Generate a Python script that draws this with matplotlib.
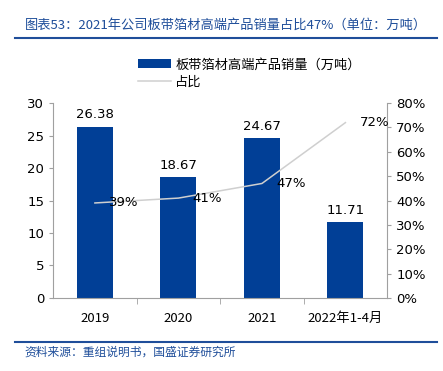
import matplotlib.pyplot as plt
from matplotlib.ticker import PercentFormatter

plt.rcParams['font.family'] = ['DejaVu Sans', 'Noto Sans CJK SC']

# datos
categorias = ['2019', '2020', '2021', '2022年1-4月']
ventas = [26.38, 18.67, 24.67, 11.71]
proporcion = [0.39, 0.41, 0.47, 0.72]
etiquetas_prop = ['39%', '41%', '47%', '72%']

azul = '#013F96'
gris = '#CFCFCF'
cjk = ['Noto Sans CJK SC', 'DejaVu Sans']

fig = plt.figure(figsize=(4.43, 3.71), dpi=100)
ax = fig.add_axes([0.12, 0.197, 0.754, 0.525])

x = range(len(categorias))
barras = ax.bar(x, ventas, width=0.43, color=azul, label='板带箔材高端产品销量（万吨）', zorder=2)
for xi, v in zip(x, ventas):
    ax.text(xi, v + 0.8, f'{v:.2f}', ha='center', va='bottom', fontsize=9.5)

ax.set_ylim(0, 30)
ax.set_yticks(range(0, 31, 5))
ax.set_xlim(-0.5, 3.5)
ax.set_xticks(list(x))
ax.set_xticklabels(categorias, family=cjk)
ax.set_xticks([0.5, 1.5, 2.5], minor=True)
ax.tick_params(axis='x', which='major', length=0, pad=10, labelsize=9.5)
ax.tick_params(axis='x', which='minor', length=4, color='#A0A0A0')
ax.tick_params(axis='y', length=3, color='#A0A0A0', labelsize=9.5)
for lado in ['top', 'right']:
    ax.spines[lado].set_visible(False)
ax.spines['left'].set_color('#A0A0A0')
ax.spines['bottom'].set_color('#A0A0A0')

ax2 = ax.twinx()
linea, = ax2.plot(list(x), proporcion, color=gris, lw=1.1, label='占比', zorder=3)
for xi, p, t in zip(x, proporcion, etiquetas_prop):
    ax2.text(xi + 0.17, p, t, ha='left', va='center', fontsize=9.5)
ax2.set_ylim(0, 0.8)
ax2.set_yticks([i / 10 for i in range(9)])
ax2.yaxis.set_major_formatter(PercentFormatter(1.0, decimals=0))
ax2.tick_params(axis='y', length=3, color='#A0A0A0', labelsize=9.5)
for lado in ['top', 'left', 'bottom']:
    ax2.spines[lado].set_visible(False)
ax2.spines['right'].set_color('#A0A0A0')

fig.legend([barras, linea], ['板带箔材高端产品销量（万吨）', '占比'],
           loc='upper left', bbox_to_anchor=(0.3, 0.857), frameon=False,
           prop={'family': cjk, 'size': 9.5}, handlelength=2.5, labelspacing=0.3,
           handletextpad=0.3, borderaxespad=0)

# titulo y fuente
fig.text(0.056, 0.933, '图表53：2021年公司板带箔材高端产品销量占比47%（单位：万吨）',
         family=cjk, fontsize=9.5, style='italic', color='#1F4E9A', va='center')
fig.add_artist(plt.Line2D([0.034, 0.987], [0.897, 0.897], color='#1F4E9A', lw=1.5))
fig.add_artist(plt.Line2D([0.034, 0.987], [0.078, 0.078], color='#1F4E9A', lw=1.5))
fig.text(0.056, 0.05, '资料来源：重组说明书，国盛证券研究所',
         family=cjk, fontsize=8.5, style='italic', color='#1F4E9A', va='center')

fig.savefig('out.png', dpi=100)
